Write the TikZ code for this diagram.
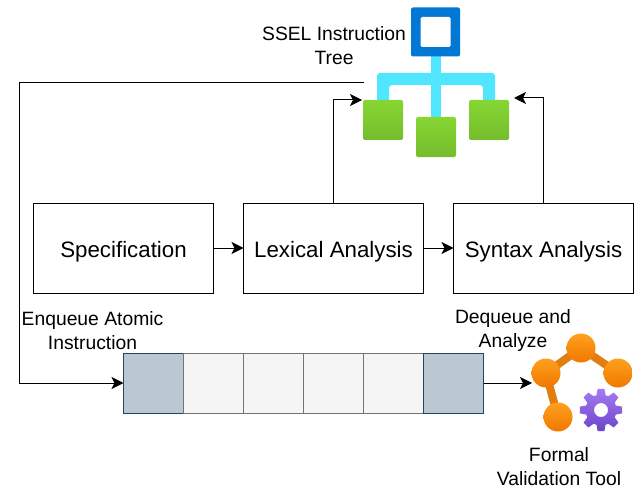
\documentclass[tikz,border=0pt]{standalone}
\usepackage{fontspec}
\setmainfont{Liberation Sans}
\usetikzlibrary{positioning,arrows.meta,calc}
\definecolor{iconblue}{HTML}{0078D4}
\definecolor{iconcyan}{HTML}{50E6FF}
\definecolor{qblue}{HTML}{BAC8D3}
\definecolor{qedge}{HTML}{23445D}
\definecolor{leafT}{HTML}{86D633}
\definecolor{leafB}{HTML}{76BC2D}
\definecolor{ballT}{HTML}{FFA01E}
\definecolor{ballB}{HTML}{F07800}
\definecolor{stick}{HTML}{E07F10}
\definecolor{gearT}{HTML}{A67AF4}
\definecolor{gearB}{HTML}{6B45C8}
\tikzset{stagebox/.style={rectangle,draw,line width=1pt,inner sep=0pt,outer sep=0pt,minimum width=180pt,minimum height=90pt,text height=18pt,text depth=0pt,font=\fontsize{22.3}{24}\selectfont},
	 qend/.style={rectangle,draw=qedge,fill=qblue,line width=0.8pt,inner sep=0pt,outer sep=0pt,minimum width=60pt,minimum height=60pt},
	 qcell/.style={rectangle,draw=black!55,fill=black!4,line width=0.8pt,inner sep=0pt,outer sep=0pt,minimum width=60pt,minimum height=60pt},
	 lbl/.style={align=center,inner sep=0pt,font=\fontsize{19.3}{24}\selectfont},
	 leaf/.style={rectangle,rounded corners=2pt,inner sep=0pt,minimum size=40pt,top color=leafT,bottom color=leafB},
	 ball/.style={circle,inner sep=0pt,minimum size=29pt,top color=ballT,bottom color=ballB},
	 link/.style={-{Stealth[length=12pt,width=12pt,inset=3pt]},line width=1pt},
	 node distance = 30pt
	 }
\begin{document}
\begin{tikzpicture}[x=1pt,y=-1pt]
	\useasboundingbox (0,0) rectangle (644,497);
	% stages
	\node[stagebox] (spec) at (123.5,248) {Specification};
	\node[stagebox] (lex) [right=of spec] {Lexical Analysis};
	\node[stagebox] (syn) [right=of lex] {Syntax Analysis};
	\draw[link] (spec) to (lex);
	\draw[link] (lex) to (syn);
	% tree icon
	\fill[iconcyan] (431,50) rectangle (441,120);
	\fill[iconcyan,rounded corners=3pt] (377,104) -- (377,73) -- (495,73) -- (495,104) -- (483,104) -- (483,85) -- (389,85) -- (389,104) -- cycle;
	\node[rectangle,fill=iconblue,rounded corners=2pt,inner sep=0pt,minimum size=49pt] (root) at (435.5,32) {};
	\node[rectangle,fill=white,rounded corners=1.5pt,inner sep=0pt,minimum size=30pt] (rooti) at (435.5,32) {};
	\node[leaf] (t1) at (383,120) {};
	\node[leaf] (t2) at (436,137) {};
	\node[leaf] (t3) at (489,120) {};
	\node[lbl] (treelbl) at (334,46) {SSEL Instruction\\Tree};
	% queue
	\node[qend] (q1) at (153.5,383) {};
	\node[qcell] (q2) [right=0pt of q1] {};
	\node[qcell] (q3) [right=0pt of q2] {};
	\node[qcell] (q4) [right=0pt of q3] {};
	\node[qcell] (q5) [right=0pt of q4] {};
	\node[qend] (q6) [right=0pt of q5] {};
	\node[lbl] (enq) at (92.5,331) {Enqueue Atomic\\Instruction};
	\node[lbl] (deq) at (513,331) {Dequeue and\\Analyze};
	% tool icon
	\coordinate (b0) at (581,348);
	\coordinate (b1) at (546,373);
	\coordinate (b2) at (618,373);
	\coordinate (b3) at (558,417);
	\draw[stick,line width=8pt] (b3) -- (b1) -- (b0) -- (b2);
	\node[ball] (n0) at (b0) {};
	\node[ball] (n1) at (b1) {};
	\node[ball] (n2) at (b2) {};
	\node[ball] (n3) at (b3) {};
	\coordinate (g0) at (601,410);
	\path[top color=gearT,bottom color=gearB,even odd rule]
		($(g0)+(-9:21.5)$)
		\foreach \a in {0,45,...,315} {
			-- ($(g0)+(\a-9:21.5)$) -- ($(g0)+(\a+9:21.5)$) -- ($(g0)+(\a+17:15.5)$) -- ($(g0)+(\a+28:15.5)$)
		} -- cycle
		(g0) circle (7);
	\node[lbl] (toollbl) at (559,466.5) {Formal\\Validation Tool};
	% connectors
	\coordinate (c1) at (364,83);
	\coordinate (c2) at (19,83);
	\coordinate (c3) at (19,383);
	\coordinate (c4) at (333.5,100);
	\coordinate (c5) at (543.5,98);
	\coordinate (e1) at (362,100);
	\coordinate (e2) at (514,98);
	\coordinate (e3) at (532,383);
	\draw[link] (c1) -- (c2) -- (c3) -- (q1);
	\draw[link] (lex.north) -- (c4) -- (e1);
	\draw[link] (syn.north) -- (c5) -- (e2);
	\draw[link] (q6) -- (e3);
\end{tikzpicture}
\end{document}
